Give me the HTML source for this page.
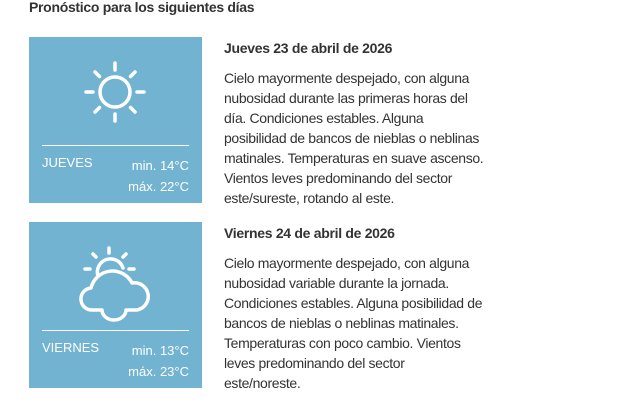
<!DOCTYPE html>
<html><head><meta charset="utf-8"><style>
body{margin:0;width:634px;height:406px;background:#fff;font-family:"Liberation Sans",sans-serif;color:#333;position:relative;overflow:hidden}
.h{position:absolute;left:29px;top:-1px;font-weight:bold;font-size:14px;letter-spacing:-0.3px}
.box{position:absolute;left:29px;width:173px;height:166px;background:#72b3d1;color:#fff}
.box .ln{position:absolute;left:13px;width:147px;top:108px;height:1px;background:#fff}
.box .d{position:absolute;left:13px;top:118px;font-size:13px}
.box .t{position:absolute;right:13px;top:118px;font-size:13px;text-align:right;line-height:21px}
.box svg{position:absolute;left:0;top:0}
.tx{position:absolute;left:224px;font-size:14px;line-height:20px;letter-spacing:-0.35px}
.tx b{display:block;margin-bottom:10px;letter-spacing:-0.3px}
</style></head><body>
<div class="h">Pronóstico para los siguientes días</div>

<div class="box" style="top:37px">
<svg width="173" height="108" stroke="#fff" stroke-width="3.5" fill="none" stroke-linecap="round">
<circle cx="86" cy="55" r="15"/>
<g transform="translate(86,55)">
<line x1="0" y1="-22" x2="0" y2="-29"/><line x1="0" y1="22" x2="0" y2="29"/>
<line x1="-22" y1="0" x2="-29" y2="0"/><line x1="22" y1="0" x2="29" y2="0"/>
<line x1="15.5" y1="-15.5" x2="20" y2="-20"/><line x1="-15.5" y1="-15.5" x2="-20" y2="-20"/>
<line x1="15.5" y1="15.5" x2="20" y2="20"/><line x1="-15.5" y1="15.5" x2="-20" y2="20"/>
</g></svg>
<div class="ln"></div>
<div class="d">JUEVES</div>
<div class="t">min. 14°C<br>máx. 22°C</div>
</div>

<div class="box" style="top:222px">
<svg width="173" height="108" stroke="#fff" stroke-width="3.5" fill="none" stroke-linecap="round" stroke-linejoin="round">
<path d="M69 54 A13 13 0 0 1 94 46"/>
<line x1="80" y1="26" x2="80" y2="31"/>
<line x1="64" y1="32" x2="67" y2="35"/>
<line x1="97" y1="32" x2="94" y2="35"/>
<line x1="56" y1="47" x2="61" y2="47"/>
<line x1="100" y1="47" x2="105" y2="47"/>
<path d="M73 88 H64 A11 11 0 0 1 62 66 A22 22 0 0 1 103 61 A13.5 13.5 0 0 1 108 88 H97 A12 10 0 0 1 73 88 Z"/>
</svg>
<div class="ln"></div>
<div class="d">VIERNES</div>
<div class="t">min. 13°C<br>máx. 23°C</div>
</div>

<div class="tx" style="top:38px"><b>Jueves 23 de abril de 2026</b>Cielo mayormente despejado, con alguna<br>nubosidad durante las primeras horas del<br>día. Condiciones estables. Alguna<br>posibilidad de bancos de nieblas o neblinas<br>matinales. Temperaturas en suave ascenso.<br>Vientos leves predominando del sector<br>este/sureste, rotando al este.</div>

<div class="tx" style="top:223px"><b>Viernes 24 de abril de 2026</b>Cielo mayormente despejado, con alguna<br>nubosidad variable durante la jornada.<br>Condiciones estables. Alguna posibilidad de<br>bancos de nieblas o neblinas matinales.<br>Temperaturas con poco cambio. Vientos<br>leves predominando del sector<br>este/noreste.</div>
</body></html>
